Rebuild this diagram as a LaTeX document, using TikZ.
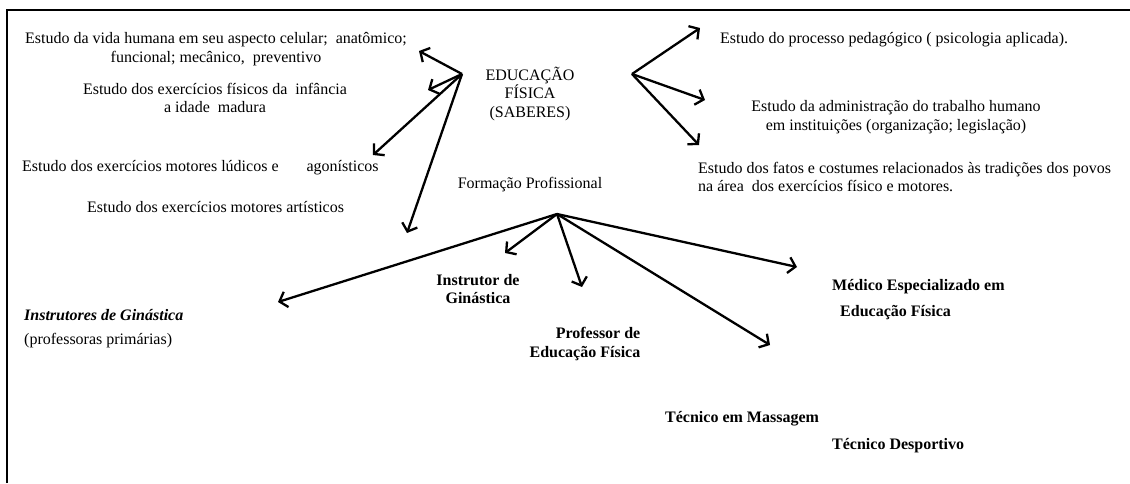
\documentclass[tikz,border=0pt]{standalone}
\usepackage{fontspec}
\setmainfont{Liberation Serif}
\usetikzlibrary{arrows.meta}
\begin{document}
\begin{tikzpicture}[
    x=1pt, y=-1pt,
    arrowstyle/.style={draw, line width=2.3pt, -{Straight Barb[length=7pt,width=16pt]}},
    saber/.style={inner sep=0pt, font=\fontsize{16}{18.5}\selectfont},
    cargo/.style={inner sep=0pt, font=\fontsize{16}{18.5}\selectfont\bfseries}
]
\useasboundingbox (0,0) rectangle (1130,483);
\draw[line width=2.8pt] (7,483) -- (7,10) -- (1130,10);
\node (Educacao) [saber, align=center] at (530,94) {EDUCAÇÃO\\FÍSICA\\(SABERES)};
\node (Formacao) [saber] at (530,185) {Formação Profissional};
\node (Vida) [saber, align=center] at (216,49) {Estudo da vida humana em seu aspecto celular;\ \ anatômico;\\funcional; mecânico,\ \ preventivo};
\node (Infancia) [saber, align=center] at (215,98) {Estudo dos exercícios físicos da\ \ infância\\a idade\ \ madura};
\node (Ludicos) [saber, anchor=west] at (22,168) {Estudo dos exercícios motores lúdicos e\hspace{28pt}agonísticos};
\node (Artisticos) [saber, anchor=west] at (87,207) {Estudo dos exercícios motores artísticos};
\node (Pedagogico) [saber, anchor=west] at (720,40) {Estudo do processo pedagógico ( psicologia aplicada).};
\node (Administracao) [saber, align=center] at (896,117) {Estudo da administração do trabalho humano\\em instituições (organização; legislação)};
\node (Fatos) [saber, anchor=west, align=left] at (698,177) {Estudo dos fatos e costumes relacionados às tradições dos povos\\na área\ \ dos exercícios físico e motores.};
\node (Instrutores) [cargo, anchor=west, font=\fontsize{16}{18.5}\selectfont\bfseries\itshape] at (24,315) {Instrutores de Ginástica};
\node (Primarias) [saber, anchor=west] at (24,341) {(professoras primárias)};
\node (Instrutor) [cargo, align=center] at (478,289) {Instrutor de\\Ginástica};
\node (Professor) [cargo, align=right] at (585,344) {Professor de\\Educação Física};
\node (Medico) [cargo, anchor=north west, align=left] at (832,279) {Médico Especializado em\\[8pt]\hspace*{8pt}Educação Física};
\node (Massagem) [cargo, anchor=west] at (665,419) {Técnico em Massagem};
\node (Desportivo) [cargo, anchor=west] at (832,446) {Técnico Desportivo};
\coordinate (HubSaberesL) at (462,74);
\coordinate (HubSaberesR) at (632,74);
\coordinate (HubFormacao) at (557,214);
\coordinate (TipVida) at (419,51);
\coordinate (TipInfancia) at (428,90);
\coordinate (TipLudicos) at (373,155);
\coordinate (TipArtisticos) at (407,233);
\coordinate (TipPedagogico) at (700,28);
\coordinate (TipAdministracao) at (705,100);
\coordinate (TipFatos) at (699,145);
\coordinate (TipInstrutores) at (278,302);
\coordinate (TipInstrutor) at (505,253);
\coordinate (TipProfessor) at (582,287);
\coordinate (TipMassagem) at (770,345);
\coordinate (TipMedico) at (797,267);
\draw[arrowstyle] (HubSaberesL) -- (TipVida);
\draw[arrowstyle] (HubSaberesL) -- (TipInfancia);
\draw[arrowstyle] (HubSaberesL) -- (TipLudicos);
\draw[arrowstyle] (HubSaberesL) -- (TipArtisticos);
\draw[arrowstyle] (HubSaberesR) -- (TipPedagogico);
\draw[arrowstyle] (HubSaberesR) -- (TipAdministracao);
\draw[arrowstyle] (HubSaberesR) -- (TipFatos);
\draw[arrowstyle] (HubFormacao) -- (TipInstrutores);
\draw[arrowstyle] (HubFormacao) -- (TipInstrutor);
\draw[arrowstyle] (HubFormacao) -- (TipProfessor);
\draw[arrowstyle] (HubFormacao) -- (TipMassagem);
\draw[arrowstyle] (HubFormacao) -- (TipMedico);
\end{tikzpicture}
\end{document}
